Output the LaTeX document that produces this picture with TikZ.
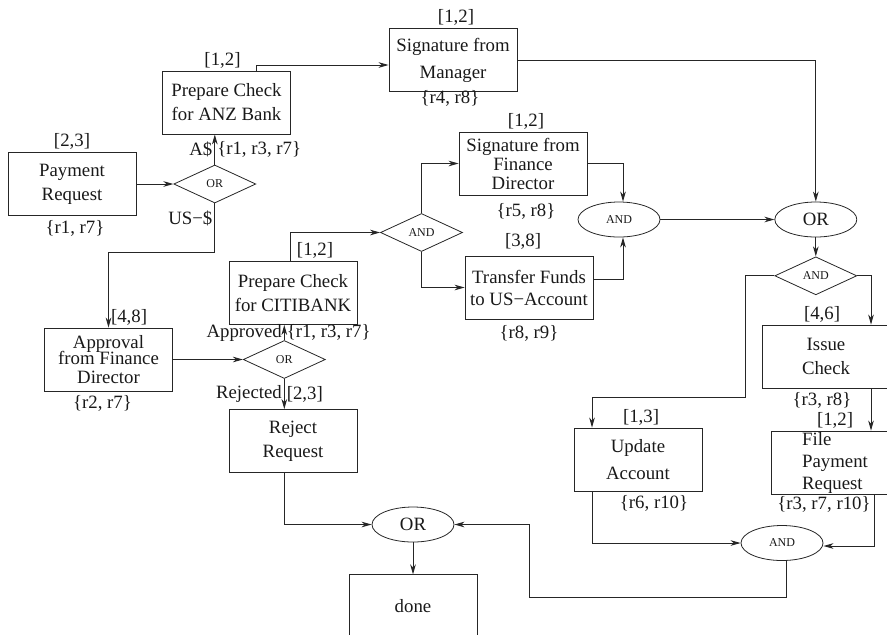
\documentclass[tikz,border=0pt]{standalone}
\usepackage{fontspec}
\setmainfont{Liberation Serif}
\usetikzlibrary{shapes.geometric,arrows.meta,positioning}

\begin{document}
\begin{tikzpicture}[
    x=0.5pt, y=-0.5pt,
    box/.style={rectangle, draw=black!85, minimum width=64pt, minimum height=31.5pt, inner sep=1pt, align=center, font=\fontsize{9.4}{12}\selectfont, text=black!90},
    gate/.style={diamond, draw=black!85, minimum width=41pt, minimum height=19pt, inner sep=0pt, font=\fontsize{6}{7}\selectfont, text=black!90},
    junc/.style={ellipse, draw=black!85, minimum width=41pt, minimum height=17.5pt, inner sep=0pt, font=\fontsize{6}{7}\selectfont, text=black!90},
    bigjunc/.style={junc, font=\fontsize{9.4}{12}\selectfont},
    tag/.style={font=\fontsize{9.4}{12}\selectfont, inner sep=1pt, text=black!90},
    arrow/.style={-{Stealth[length=5pt,width=2.8pt,inset=1.5pt]}, line width=0.5pt, draw=black!85},
]
    \useasboundingbox (0,0) rectangle (887,634);
    \clip (0,0) rectangle (887,634);

    % --- Left column: request and approval ---
    \node[box] (pay) at (72,184) {Payment\\Request};
    \node[gate, right=18.5pt of pay] (or1) {OR};
    \node[box] (anz) at (226.5,102.5) {Prepare Check\\for ANZ Bank};
    \node[box] (mgr) at (453,60) {Signature from\\[1.5pt]Manager};
    \node[box] (appr) at (108.5,359.5) {Approval\\[-4pt]from Finance\\[-2.5pt]Director};
    \node[gate, right=35pt of appr] (or2) {OR};
    \node[box] (citi) at (293,293) {Prepare Check\\for CITIBANK};
    \node[box] (rej) at (293,441) {Reject\\Request};

    % --- US account branch ---
    \node[gate] (and1) at (421.5,232.5) {AND};
    \node[box] (fd) at (523,163.5) {Signature from\\[-2.5pt]Finance\\[-2.5pt]Director};
    \node[box] (usacc) at (529,287.5) {Transfer Funds\\[-1pt]to US−Account};
    \node[junc] (and2) at (619,219.5) {AND};
    \node[bigjunc, right=57pt of and2] (or3) {OR};
    \node[gate, below=9.5pt of or3] (and3) {AND};

    % --- Issue, file, update ---
    \node[box] (issue) at (826,356.5) {Issue\\Check};
    \node[box, align=left, inner sep=0pt] (file) at (835,462.5) {File\\[-1pt]Payment\\[-1pt]Request};
    \node[box] (upd) at (638,459.5) {Update\\[1.5pt]Account};
    \node[junc] (and4) at (782,543) {AND};
    \node[bigjunc] (or4) at (413,524.5) {OR};
    \node[box, below=16pt of or4] (done) {done};

    % --- Durations and resources ---
    \node[tag, above=0pt of pay] {[2,3]};
    \node[tag, below=1pt of pay, xshift=1.5pt] {\{r1, r7\}};
    \node[tag, above=0pt of anz, xshift=-2pt] {[1,2]};
    \node[tag, above=0pt of mgr, xshift=1.5pt] {[1,2]};
    \node[tag, below=-2pt of mgr, xshift=-1.5pt] {\{r4, r8\}};
    \node[tag, below=1pt of appr, xshift=-3pt] {\{r2, r7\}};
    \node[tag, above=0pt of citi, xshift=11pt] {[1,2]};
    \node[tag, above=0pt of fd, xshift=1.5pt] {[1,2]};
    \node[tag, below=3pt of fd, xshift=1.5pt] {\{r5, r8\}};
    \node[tag, above=2pt of usacc, xshift=-3pt] {[3,8]};
    \node[tag, below=2pt of usacc] {\{r8, r9\}};
    \node[tag, above=0pt of issue, xshift=-2pt] {[4,6]};
    \node[tag, below=1pt of issue, xshift=-2pt] {\{r3, r8\}};
    \node[tag, above=0pt of file] {[1,2]};
    \node[tag, below=0pt of file, xshift=-5.5pt] {\{r3, r7, r10\}};
    \node[tag, above=0pt of upd, xshift=1.5pt] {[1,3]};
    \node[tag, below=1pt of upd, xshift=8pt] {\{r6, r10\}};

    % --- Arrows ---
    \draw[arrow] (pay) -- (or1);
    \draw[arrow] (or1.north) -- (or1.north |- anz.south)
        node[tag, midway, left] {A\$} node[tag, midway, right] {\{r1, r3, r7\}};
    \draw[arrow] ([xshift=15pt]anz.north) |- ([yshift=-2.5pt]mgr.west);
    \draw[arrow] (mgr.east) -| (or3.north);
    \draw[arrow] (or1.south) -- ++(0,49) node[tag, pos=0.3, left] {US−\$}
        -| (appr.north) node[tag, pos=1, above right] {[4,8]};
    \draw[arrow] (appr) -- (or2);
    \draw[arrow] (or2.north) -- (or2.north |- citi.south)
        node[tag, midway, left] {Approved} node[tag, midway, right] {\{r1, r3, r7\}};
    \draw[arrow] (or2.south) -- (or2.south |- rej.north)
        node[tag, midway, left] {Rejected} node[tag, midway, right] {[2,3]};

    \draw[arrow] ([xshift=-1.5pt]citi.north) |- (and1.west);
    \draw[arrow] (and1.north) |- (fd.west);
    \draw[arrow] (and1.south) |- (usacc.west);
    \draw[arrow] (fd.east) -| ([xshift=2pt]and2.north);
    \draw[arrow] ([yshift=4pt]usacc.east) -| ([xshift=2pt]and2.south);
    \draw[arrow] (and2) -- (or3);
    \draw[arrow] (or3) -- (and3);

    \draw[arrow] (and3.west) -- ++(-29,0) -- ++(0,122) -| ([xshift=-23pt]upd.north);
    \draw[arrow] (and3.east) -| ([xshift=22.5pt]issue.north);
    \draw[arrow] ([xshift=22.5pt]issue.south) -- ([xshift=22.5pt]issue.south |- file.north);
    \draw[arrow] ([xshift=-23pt]upd.south) |- (and4.west);
    \draw[arrow] ([xshift=19.5pt]file.south) |- ([yshift=-1.5pt]and4.east);

    % Back to the final OR
    \draw[arrow] ([xshift=2pt]and4.south) -- ++(0,37) -| ([xshift=37.5pt]or4.east) -- (or4.east);
    \draw[arrow] ([xshift=-4.5pt]rej.south) |- (or4.west);
    \draw[arrow] (or4) -- (done);

\end{tikzpicture}
\end{document}
